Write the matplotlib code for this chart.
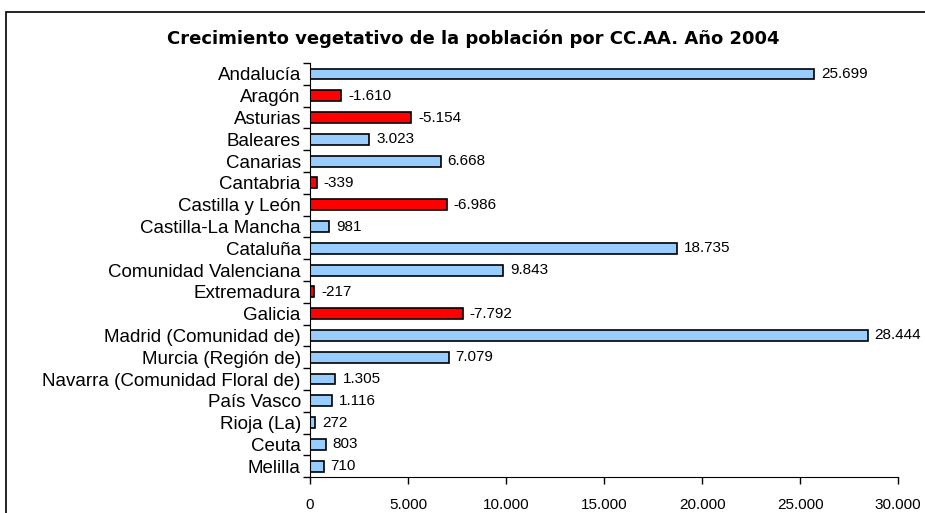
import numpy as np
import matplotlib
matplotlib.use('Agg')
import matplotlib.pyplot as plt
from matplotlib.patches import Rectangle
from matplotlib.ticker import FuncFormatter, FixedLocator

# Datos: crecimiento vegetativo por comunidad autonoma, 2004
comunidades = ['Andalucía', 'Aragón', 'Asturias', 'Baleares', 'Canarias', 'Cantabria',
               'Castilla y León', 'Castilla-La Mancha', 'Cataluña', 'Comunidad Valenciana',
               'Extremadura', 'Galicia', 'Madrid (Comunidad de)', 'Murcia (Región de)',
               'Navarra (Comunidad Floral de)', 'País Vasco', 'Rioja (La)', 'Ceuta', 'Melilla']
crecimiento = [25699, -1610, -5154, 3023, 6668, -339, -6986, 981, 18735, 9843,
               -217, -7792, 28444, 7079, 1305, 1116, 272, 803, 710]
xticks_valores = [0, 5000, 10000, 15000, 20000, 25000, 30000]

plt.rcParams['font.family'] = ['Liberation Sans', 'DejaVu Sans']


def miles(v, pos=None):
    return '{:,}'.format(int(v)).replace(',', '.')


valores = np.array(crecimiento)
colores = ['#FF0000' if v < 0 else '#99CCFF' for v in valores]
ys = np.arange(len(comunidades))

fig = plt.figure(figsize=(9.25, 5.13), dpi=100)
ax = fig.add_axes([0.335, 0.070, 0.636, 0.807])

ax.barh(ys, np.abs(valores), height=0.5, color=colores, edgecolor='black', linewidth=1.2)

# etiquetas de valor al final de cada barra
for y, v in zip(ys, valores):
    ax.annotate(miles(v), xy=(abs(v), y), xytext=(5, 0), textcoords='offset points',
                va='center', ha='left', fontsize=11, annotation_clip=False)

ax.set_xlim(0, 30000)
ax.set_ylim(len(comunidades) - 0.5, -0.5)
ax.set_xticks(xticks_valores)
ax.xaxis.set_major_formatter(FuncFormatter(miles))
ax.tick_params(axis='x', direction='out', length=5, width=1, labelsize=11, pad=10)

ax.set_yticks(ys)
ax.set_yticklabels(comunidades, fontsize=13.5)
ax.tick_params(axis='y', which='major', length=0, pad=6.5)
ax.yaxis.set_minor_locator(FixedLocator(np.arange(-0.5, len(comunidades), 1)))
ax.tick_params(axis='y', which='minor', direction='out', length=5, width=1)

for lado in ['top', 'right']:
    ax.spines[lado].set_visible(False)
ax.set_facecolor('none')

fig.text(0.512, 0.925, 'Crecimiento vegetativo de la población por CC.AA. Año 2004',
         ha='center', va='center', fontsize=13, fontweight='bold',
         family=['DejaVu Sans'])

# marco exterior del grafico
fig.patches.append(Rectangle((6 / 925, -0.1), 1.0, 1 - 12 / 513 + 0.1, transform=fig.transFigure,
                             fill=False, edgecolor='black', linewidth=1.2, clip_on=False))

fig.savefig('out.png', dpi=100)
